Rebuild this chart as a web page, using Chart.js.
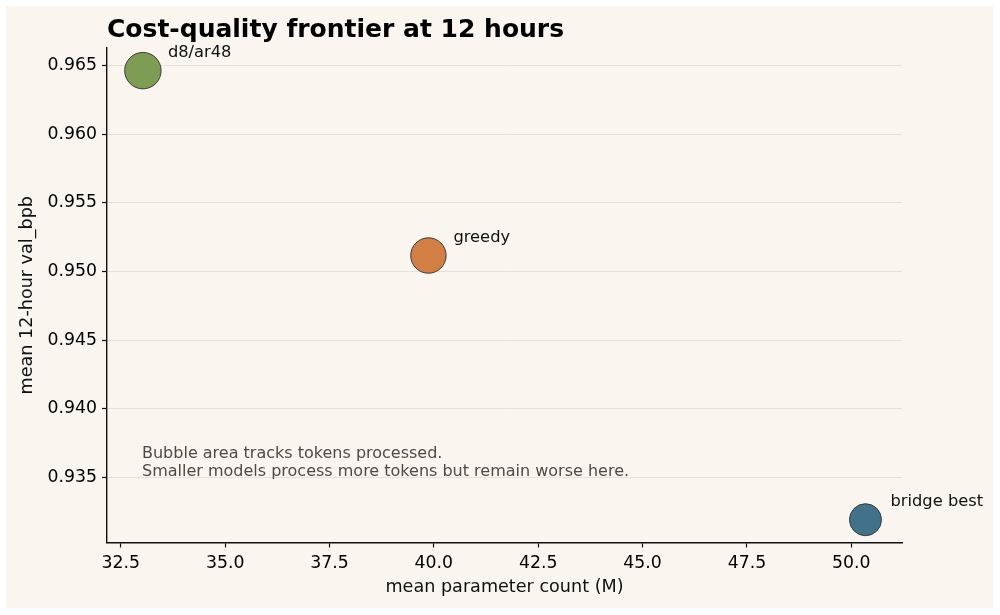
<!DOCTYPE html>
<html>
<head>
<meta charset="utf-8">
<script src="https://cdn.jsdelivr.net/npm/chart.js@4.4.1/dist/chart.umd.min.js"></script>
<style>
  html, body { margin: 0; padding: 0; background: #ffffff; }
  #wrap { width: 1000px; height: 615px; position: relative; }
  canvas { display: block; }
</style>
</head>
<body>
<div id="wrap"><canvas id="c" width="1000" height="615"></canvas></div>
<script>
// ---- data ----
const labels = ["d8/ar48", "greedy", "bridge best"];
const paramsM = [33.03, 39.87, 50.34];
const valBpb = [0.96464, 0.95117, 0.93192];
const bubbleR = [18.2, 17.7, 16.0];
const colors = ["#7f9c55", "#d17f45", "#41728a"];
const xTicks = [32.5, 35.0, 37.5, 40.0, 42.5, 45.0, 47.5, 50.0];
const yTicks = [0.935, 0.940, 0.945, 0.950, 0.955, 0.960, 0.965];
const titleText = "Cost-quality frontier at 12 hours";
const xTitle = "mean parameter count (M)";
const yTitle = "mean 12-hour val_bpb";
const noteLines = ["Bubble area tracks tokens processed.", "Smaller models process more tokens but remain worse here."];

const FONT = "'DejaVu Sans', sans-serif";
const BG = "#faf6ef";

const bgPlugin = {
  id: 'bg',
  beforeDraw(chart) {
    const ctx = chart.ctx;
    ctx.save();
    ctx.fillStyle = "#ffffff";
    ctx.fillRect(0, 0, chart.width, chart.height);
    ctx.fillStyle = BG;
    ctx.fillRect(6, 6, 987, 602);
    ctx.restore();
  }
};

const textPlugin = {
  id: 'texts',
  afterDatasetsDraw(chart) {
    const ctx = chart.ctx;
    const ca = chart.chartArea;
    ctx.save();
    // point labels
    const meta = chart.getDatasetMeta(0);
    ctx.fillStyle = "#111";
    ctx.font = "16.3px " + FONT;
    ctx.textAlign = "left";
    ctx.textBaseline = "middle";
    meta.data.forEach((el, i) => {
      ctx.fillText(labels[i], el.x + 25, el.y - 18);
    });
    // note
    ctx.fillStyle = "#4d4a45";
    ctx.font = "16px " + FONT;
    ctx.fillText(noteLines[0], ca.left + 35, ca.bottom - 89);
    ctx.fillText(noteLines[1], ca.left + 35, ca.bottom - 71);
    // title
    ctx.fillStyle = "#000";
    ctx.font = "bold 25px " + FONT;
    ctx.textAlign = "left";
    ctx.fillText(titleText, ca.left, 30);
    // axis titles
    ctx.fillStyle = "#111";
    ctx.font = "17.6px " + FONT;
    ctx.textAlign = "center";
    ctx.fillText(xTitle, (ca.left + ca.right) / 2, 587);
    ctx.save();
    ctx.translate(27, (ca.top + ca.bottom) / 2);
    ctx.rotate(-Math.PI / 2);
    ctx.fillText(yTitle, 0, 0);
    ctx.restore();
    ctx.restore();
  }
};

new Chart(document.getElementById('c'), {
  type: 'bubble',
  data: {
    datasets: [{
      data: paramsM.map((x, i) => ({ x: x, y: valBpb[i], r: bubbleR[i] })),
      backgroundColor: colors,
      borderColor: "#3a3a3a",
      borderWidth: 1,
      hoverRadius: 0,
      hoverBorderWidth: 1
    }]
  },
  options: {
    responsive: false,
    animation: false,
    events: [],
    layout: { padding: { left: 0, top: 48, right: 98, bottom: 0 } },
    plugins: { legend: { display: false }, tooltip: { enabled: false }, title: { display: false } },
    scales: {
      x: {
        type: 'linear',
        min: 32.17,
        max: 51.215,
        afterBuildTicks(scale) { scale.ticks = xTicks.map(v => ({ value: v })); },
        afterFit(scale) { scale.height = 72.5; },
        grid: { display: true, drawOnChartArea: false, tickLength: 5, tickColor: "#111", tickWidth: 1.2 },
        border: { display: true, color: "#111", width: 1.4 },
        ticks: {
          color: "#000",
          font: { family: FONT, size: 17.3 },
          padding: 6,
          maxRotation: 0,
          callback: v => Number(v).toFixed(1)
        }
      },
      y: {
        type: 'linear',
        min: 0.93026,
        max: 0.96629,
        afterBuildTicks(scale) { scale.ticks = yTicks.map(v => ({ value: v })); },
        afterFit(scale) { scale.width = 107; },
        grid: { display: true, drawOnChartArea: true, color: "#e8e1d3", lineWidth: 1, tickLength: 5, tickColor: "#111", tickWidth: 1.2 },
        border: { display: true, color: "#111", width: 1.4 },
        ticks: {
          color: "#000",
          font: { family: FONT, size: 17.3 },
          padding: 5,
          callback: v => Number(v).toFixed(3)
        }
      }
    }
  },
  plugins: [bgPlugin, textPlugin]
});
</script>
</body>
</html>
